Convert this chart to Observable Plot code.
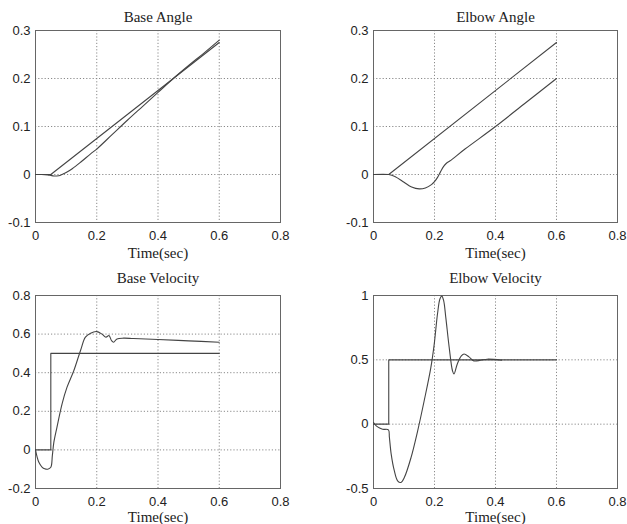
<!DOCTYPE html>
<html>
<head>
<meta charset="utf-8">
<script src="https://cdn.jsdelivr.net/npm/d3@7"></script>
<script src="https://cdn.jsdelivr.net/npm/@observablehq/plot@0.6"></script>
<style>
  html, body { margin: 0; padding: 0; background: #fff; }
  #wrap { position: relative; width: 627px; height: 524px; overflow: hidden; }
  #wrap > svg { position: absolute; }
</style>
</head>
<body>
<div id="wrap"></div>
<script>
// ---------- data ----------
const titles = ["Base Angle", "Elbow Angle", "Base Velocity", "Elbow Velocity"];
const xLabel = "Time(sec)";
const xTicks = [0, 0.2, 0.4, 0.6, 0.8];
const yTicksAngle = [-0.1, 0, 0.1, 0.2, 0.3];
const yTicksBaseVel = [-0.2, 0, 0.2, 0.4, 0.6, 0.8];
const yTicksElbowVel = [-0.5, 0, 0.5, 1];

// Base angle
const baseAngleRefT = [0, 0.05, 0.6];
const baseAngleRefY = [0, 0, 0.275];
const baseAngleT = [0, 0.02, 0.04, 0.05, 0.06, 0.07, 0.08, 0.09, 0.1, 0.12, 0.15, 0.18, 0.2, 0.25, 0.3, 0.35, 0.4, 0.45, 0.5, 0.55, 0.6];
const baseAngleY = [0, 0, -0.001, -0.002, -0.003, -0.003, -0.002, 0.001, 0.004, 0.012, 0.027, 0.043, 0.053, 0.083, 0.113, 0.142, 0.171, 0.2, 0.227, 0.253, 0.28];

// Elbow angle
const elbowAngleRefT = [0, 0.05, 0.6];
const elbowAngleRefY = [0, 0, 0.275];
const elbowAngleT = [0, 0.05, 0.07, 0.1, 0.125, 0.15, 0.17, 0.19, 0.2, 0.21, 0.22, 0.23, 0.24, 0.25, 0.3, 0.4, 0.5, 0.6];
const elbowAngleY = [0, 0, -0.004, -0.016, -0.026, -0.03, -0.028, -0.021, -0.015, -0.006, 0.006, 0.017, 0.024, 0.028, 0.053, 0.1, 0.15, 0.2];

// Base velocity
const baseVelRefT = [0, 0.05, 0.05, 0.6];
const baseVelRefY = [0, 0, 0.5, 0.5];
const baseVelT = [0, 0.005, 0.011, 0.022, 0.03, 0.04, 0.05, 0.055, 0.06, 0.07, 0.087, 0.103, 0.125, 0.147, 0.163, 0.18, 0.2, 0.217, 0.23, 0.24, 0.248, 0.255, 0.266, 0.288, 0.32, 0.4, 0.5, 0.6];
const baseVelY = [0, -0.035, -0.064, -0.09, -0.098, -0.1, -0.09, -0.03, 0.04, 0.117, 0.24, 0.325, 0.41, 0.515, 0.584, 0.605, 0.613, 0.6, 0.584, 0.593, 0.567, 0.558, 0.575, 0.579, 0.577, 0.572, 0.565, 0.558];

// Elbow velocity
const elbowVelRefT = [0, 0.05, 0.05, 0.6];
const elbowVelRefY = [0, 0, 0.5, 0.5];
const elbowVelT = [0, 0.009, 0.02, 0.03, 0.049, 0.052, 0.058, 0.068, 0.079, 0.09, 0.101, 0.123, 0.145, 0.166, 0.188, 0.199, 0.21, 0.218, 0.224, 0.23, 0.237, 0.248, 0.259, 0.264, 0.275, 0.288, 0.297, 0.313, 0.329, 0.351, 0.373, 0.42];
const elbowVelY = [0.013, -0.013, -0.03, -0.04, -0.044, -0.1, -0.233, -0.36, -0.44, -0.453, -0.415, -0.26, -0.05, 0.18, 0.44, 0.62, 0.86, 0.975, 0.995, 0.96, 0.83, 0.6, 0.415, 0.39, 0.47, 0.53, 0.545, 0.523, 0.492, 0.497, 0.505, 0.497];

// ---------- helpers ----------
const pts = (T, Y) => T.map((t, i) => ({t, v: Y[i]}));
const SANS = "'Liberation Sans', Arial, sans-serif";
const SERIF = "'Liberation Serif', 'Times New Roman', serif";
const LINE = "#444";

function panel({title, yDomain, yTicks, ref, act, curve, left, top, width, height, mL, mR, mT, mB, titleDy, labelDy}) {
  const svg = Plot.plot({
    width, height,
    marginLeft: mL, marginRight: mR, marginTop: mT, marginBottom: mB,
    style: {fontFamily: SANS, fontSize: "13px", color: "#222", background: "#fff"},
    x: {domain: [0, 0.8]},
    y: {domain: yDomain},
    marks: [
      Plot.gridX(xTicks, {stroke: "#8a8a8a", strokeOpacity: 1, strokeDasharray: "1.2,2"}),
      Plot.gridY(yTicks, {stroke: "#8a8a8a", strokeOpacity: 1, strokeDasharray: "1.2,2"}),
      Plot.frame({stroke: "#666", strokeWidth: 1}),
      Plot.axisX(xTicks, {tickSize: 0, tickPadding: 8, tickFormat: d => String(d), label: null, fontSize: 13}),
      Plot.axisY(yTicks, {tickSize: 0, tickPadding: 5, tickFormat: d => String(d), label: null, fontSize: 13}),
      Plot.line(ref, {x: "t", y: "v", stroke: LINE, strokeWidth: 1.1}),
      Plot.line(act, {x: "t", y: "v", stroke: LINE, strokeWidth: 1.1, curve: curve}),
      Plot.text([title], {text: d => d, frameAnchor: "top", dy: titleDy, lineAnchor: "middle", fontFamily: SERIF, fontSize: 15, fill: "#222"}),
      Plot.text([xLabel], {text: d => d, frameAnchor: "bottom", dy: labelDy, lineAnchor: "middle", fontFamily: SERIF, fontSize: 15, fill: "#222"})
    ]
  });
  svg.style.left = left + "px";
  svg.style.top = top + "px";
  document.getElementById("wrap").appendChild(svg);
}

panel({title: titles[0], yDomain: [-0.1, 0.3], yTicks: yTicksAngle,
  ref: pts(baseAngleRefT, baseAngleRefY), act: pts(baseAngleT, baseAngleY), curve: "catmull-rom",
  left: 0, top: 0, width: 313, height: 262, mL: 35, mR: 33, mT: 30, mB: 40, titleDy: -13, labelDy: 31});

panel({title: titles[1], yDomain: [-0.1, 0.3], yTicks: yTicksAngle,
  ref: pts(elbowAngleRefT, elbowAngleRefY), act: pts(elbowAngleT, elbowAngleY), curve: "catmull-rom",
  left: 313, top: 0, width: 314, height: 262, mL: 60, mR: 10, mT: 30, mB: 40, titleDy: -13, labelDy: 31});

panel({title: titles[2], yDomain: [-0.2, 0.8], yTicks: yTicksBaseVel,
  ref: pts(baseVelRefT, baseVelRefY), act: pts(baseVelT, baseVelY), curve: "catmull-rom",
  left: 0, top: 262, width: 313, height: 262, mL: 35, mR: 33, mT: 33, mB: 36, titleDy: -17, labelDy: 29});

panel({title: titles[3], yDomain: [-0.5, 1], yTicks: yTicksElbowVel,
  ref: pts(elbowVelRefT, elbowVelRefY), act: pts(elbowVelT, elbowVelY), curve: "catmull-rom",
  left: 313, top: 262, width: 314, height: 262, mL: 60, mR: 10, mT: 33, mB: 36, titleDy: -17, labelDy: 29});
</script>
</body>
</html>
